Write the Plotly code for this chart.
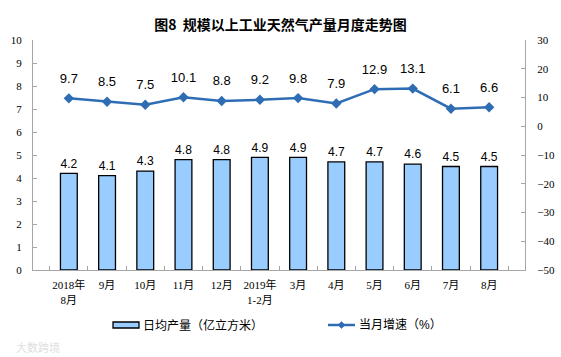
import plotly.graph_objects as go

categories = ["2018年<br>8月", "9月", "10月", "11月", "12月", "2019年<br>1-2月",
              "3月", "4月", "5月", "6月", "7月", "8月"]
daily_output = [4.2, 4.1, 4.3, 4.8, 4.8, 4.9, 4.9, 4.7, 4.7, 4.6, 4.5, 4.5]
monthly_growth = [9.7, 8.5, 7.5, 10.1, 8.8, 9.2, 9.8, 7.9, 12.9, 13.1, 6.1, 6.6]

bar_name = "日均产量（亿立方米）"
line_name = "当月增速（%）"
title_text = "图8  规模以上工业天然气产量月度走势图"

LINE_COLOR = "#2E6DB4"
BAR_COLOR = "#99CCFF"
AXIS_COLOR = "#A6A6A6"
SERIF = "Liberation Serif, Noto Sans CJK SC, serif"
SANS = "Liberation Sans, Noto Sans CJK SC, sans-serif"

W, H = 561, 357
L, R, T, B = 33, 36, 40, 87
PW, PH = W - L - R, H - T - B


def px(x):
    return (x - L) / PW


def py(y):
    return (H - B - y) / PH


fig = go.Figure()
fig.add_trace(go.Bar(
    x=categories, y=daily_output, name=bar_name,
    marker=dict(color=BAR_COLOR, line=dict(color="#000000", width=1.3)),
    text=[f"{v:.1f}" for v in daily_output], textposition="outside",
    textfont=dict(family=SANS, size=13, color="#000000"),
    cliponaxis=False, width=0.44, showlegend=False,
))
fig.add_trace(go.Scatter(
    x=categories, y=monthly_growth, name=line_name, yaxis="y2",
    mode="lines+markers",
    line=dict(color=LINE_COLOR, width=2.5),
    marker=dict(symbol="diamond", size=8, color=LINE_COLOR),
    cliponaxis=False, showlegend=False,
))
# value labels for the line, lifted a little higher above the points
fig.add_trace(go.Scatter(
    x=categories, y=monthly_growth, yaxis="y2", mode="markers+text",
    marker=dict(size=18, color="rgba(0,0,0,0)"),
    text=[f"{v:.1f}" for v in monthly_growth], textposition="top center",
    textfont=dict(family=SANS, size=13, color="#000000"),
    cliponaxis=False, showlegend=False, hoverinfo="skip",
))

fig.update_layout(
    width=W, height=H,
    margin=dict(l=L, r=R, t=T, b=B, autoexpand=False),
    paper_bgcolor="#FFFFFF", plot_bgcolor="#FFFFFF",
    title=dict(text=title_text, x=0.5, xanchor="center", y=0.93, yanchor="middle",
               font=dict(family="Noto Sans CJK SC, sans-serif", size=14, color="#000000",
                         weight="bold")),
    bargap=0.56,
    xaxis=dict(
        type="category", showline=True, linecolor=AXIS_COLOR, linewidth=1,
        ticks="inside", ticklen=4, tickcolor=AXIS_COLOR, tickson="boundaries",
        tickangle=0, automargin=False, ticklabelstandoff=5,
        tickfont=dict(family=SERIF, size=11, color="#000000"),
        showgrid=False, zeroline=False,
    ),
    yaxis=dict(
        range=[0, 10], dtick=1, showline=True, linecolor=AXIS_COLOR, linewidth=1,
        ticks="inside", ticklen=4, tickcolor=AXIS_COLOR, automargin=False,
        tickfont=dict(family=SERIF, size=11, color="#000000"),
        showgrid=False, zeroline=False, ticklabelstandoff=8,
    ),
    yaxis2=dict(
        range=[-50, 30], dtick=10, overlaying="y", side="right",
        showline=True, linecolor=AXIS_COLOR, linewidth=1,
        ticks="inside", ticklen=4, tickcolor=AXIS_COLOR, automargin=False,
        tickfont=dict(family=SERIF, size=11, color="#000000"),
        showgrid=False, zeroline=False, ticklabelstandoff=9,
    ),
    showlegend=False,
)

# Legend drawn manually (wide bar swatch and short line swatch as in the reference)
legend_y = 325
fig.add_shape(type="rect", xref="paper", yref="paper",
              x0=px(113), x1=px(139), y0=py(328), y1=py(322),
              fillcolor=BAR_COLOR, line=dict(color="#000000", width=1.3))
fig.add_annotation(text=bar_name, xref="paper", yref="paper",
                   x=px(141), y=py(legend_y), xanchor="left", yanchor="middle",
                   showarrow=False, font=dict(family=SANS, size=12, color="#000000"))
fig.add_shape(type="line", xref="paper", yref="paper",
              x0=px(328), x1=px(355), y0=py(legend_y), y1=py(legend_y),
              line=dict(color=LINE_COLOR, width=2.5))
cx, cy, d = 341.5, legend_y, 3.5
fig.add_shape(type="path", xref="paper", yref="paper",
              path=(f"M {px(cx - d)},{py(cy)} L {px(cx)},{py(cy - d)} "
                    f"L {px(cx + d)},{py(cy)} L {px(cx)},{py(cy + d)} Z"),
              fillcolor=LINE_COLOR, line=dict(color=LINE_COLOR, width=0.5))
fig.add_annotation(text=line_name, xref="paper", yref="paper",
                   x=px(357), y=py(legend_y), xanchor="left", yanchor="middle",
                   showarrow=False, font=dict(family=SANS, size=12, color="#000000"))

fig.add_annotation(
    text="大数跨境", xref="paper", yref="paper", x=px(14), y=py(347),
    xanchor="left", yanchor="middle", showarrow=False,
    font=dict(family=SANS, size=11, color="#E0E0E0"),
)

fig.write_html("out.html", config={"displayModeBar": False},
               post_script="document.body.style.margin='0';")
